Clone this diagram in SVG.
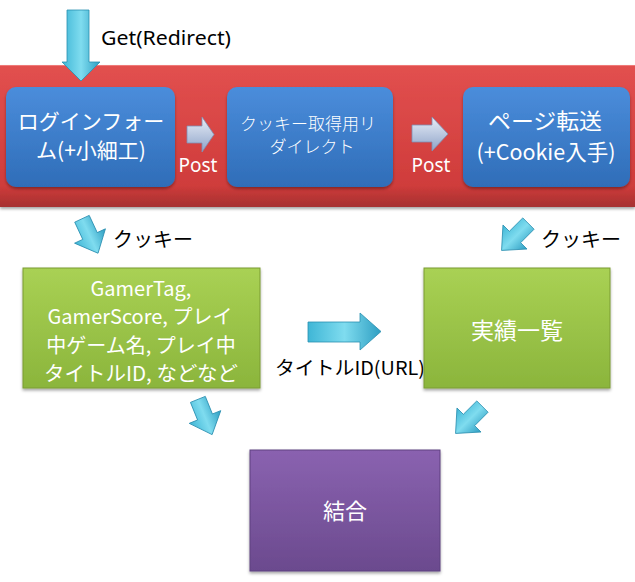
<svg xmlns="http://www.w3.org/2000/svg" width="635" height="582" viewBox="0 0 635 582">
<style>
.jp{font-family:"Noto Sans CJK JP","Noto Sans",sans-serif;}
.w{fill:#ffffff;}
.k{fill:#000000;}
.cy{fill:url(#gCyan);stroke:#2a8fb0;stroke-width:0.8;}
.gy{fill:url(#gGrey);stroke:#7d90b5;stroke-width:0.8;}
</style>
<defs>
<linearGradient id="gRed" x1="0" y1="0" x2="0" y2="1">
<stop offset="0" stop-color="#e2504f"/>
<stop offset="0.85" stop-color="#cf3c3b"/>
<stop offset="1" stop-color="#a63030"/>
</linearGradient>
<linearGradient id="gBlue" x1="0" y1="0" x2="0" y2="1">
<stop offset="0" stop-color="#4b8ddb"/>
<stop offset="1" stop-color="#2f6db8"/>
</linearGradient>
<linearGradient id="gGreen" x1="0" y1="0" x2="0" y2="1">
<stop offset="0" stop-color="#a9d154"/>
<stop offset="1" stop-color="#8bb53c"/>
</linearGradient>
<linearGradient id="gPurple" x1="0" y1="0" x2="0" y2="1">
<stop offset="0" stop-color="#8a62b0"/>
<stop offset="1" stop-color="#6b4a8e"/>
</linearGradient>
<linearGradient id="gCyan" x1="0" y1="0" x2="1" y2="0">
<stop offset="0" stop-color="#3fb6d6"/>
<stop offset="0.5" stop-color="#7fdcef"/>
<stop offset="1" stop-color="#2e9ec2"/>
</linearGradient>
<linearGradient id="gGrey" x1="0" y1="0" x2="0" y2="1">
<stop offset="0" stop-color="#e8eef8"/>
<stop offset="1" stop-color="#8ea3c8"/>
</linearGradient>
<filter id="sh" x="-10%" y="-10%" width="120%" height="130%">
<feDropShadow dx="0" dy="2" stdDeviation="1.5" flood-color="#000" flood-opacity="0.35"/>
</filter>
<path id="arrDown" d="M-8,-19 H8 V0 H17 L0,19 L-17,0 H-8 Z"/>
</defs>

<!-- red band -->
<g id="band">
<rect x="0" y="65" width="635" height="142" fill="url(#gRed)" filter="url(#sh)"/>
<line x1="0" y1="65.5" x2="635" y2="65.5" stroke="#ef7a78" stroke-width="1"/>
</g>

<g id="connectors">
<path class="cy" d="M67,10 H89 V62 H100 L81,81 L62,62 H67 Z"/>
<text class="k" x="101" y="45" font-family="Noto Sans, sans-serif" font-size="19" textLength="130" lengthAdjust="spacingAndGlyphs">Get(Redirect)</text>
<path class="gy" d="M187,126 H202 V117 L214,134.5 L202,152 V143 H187 Z"/>
<text class="w" x="198" y="172" text-anchor="middle" font-family="Noto Sans, sans-serif" font-size="19">Post</text>
<path class="gy" d="M412,125 H432 V117 L448,134 L432,151 V142 H412 Z"/>
<text class="w" x="431" y="172" text-anchor="middle" font-family="Noto Sans, sans-serif" font-size="19">Post</text>
<use href="#arrDown" class="cy" transform="translate(90,236) rotate(-25)"/>
<text class="k jp" x="113" y="247" font-size="20">クッキー</text>
<use href="#arrDown" class="cy" transform="translate(515,237) rotate(45)"/>
<text class="k jp" x="541" y="247" font-size="20">クッキー</text>
<path class="cy" d="M308,322 H360 V313 L381,331.5 L360,350 V342 H308 Z"/>
<text class="k jp" x="275" y="375" font-size="19" textLength="150" lengthAdjust="spacingAndGlyphs">タイトルID(URL)</text>
<use href="#arrDown" class="cy" transform="translate(205,417) rotate(-22)"/>
<use href="#arrDown" class="cy" transform="translate(469,420) rotate(45)"/>
</g>

<g id="login">
<rect x="6" y="87" width="169" height="100" rx="10" fill="url(#gBlue)" filter="url(#sh)"/>
<text class="w jp" x="91" y="129" text-anchor="middle" font-size="21">ログインフォー</text>
<text class="w jp" x="91" y="158" text-anchor="middle" font-size="21">ム(+小細工)</text>
</g>
<g id="redirect">
<rect x="227" y="87" width="166" height="100" rx="10" fill="url(#gBlue)" filter="url(#sh)"/>
<text class="w jp" x="308" y="130" text-anchor="middle" font-size="17" font-weight="300">クッキー取得用リ</text>
<text class="w jp" x="312" y="153" text-anchor="middle" font-size="17" font-weight="300">ダイレクト</text>
</g>
<g id="transfer">
<rect x="463" y="87" width="167" height="100" rx="10" fill="url(#gBlue)" filter="url(#sh)"/>
<text class="w jp" x="545" y="129" text-anchor="middle" font-size="22" textLength="114" lengthAdjust="spacingAndGlyphs">ページ転送</text>
<text class="w jp" x="546" y="160" text-anchor="middle" font-size="21.5">(+Cookie入手)</text>
</g>
<g id="info">
<rect x="23" y="268" width="237" height="120" fill="url(#gGreen)" stroke="#7a9c32" stroke-width="1" filter="url(#sh)"/>
<text class="w jp" x="141" y="296" text-anchor="middle" font-size="20">GamerTag,</text>
<text class="w jp" x="140" y="324" text-anchor="middle" font-size="20">GamerScore, プレイ</text>
<text class="w jp" x="141" y="353" text-anchor="middle" font-size="20">中ゲーム名, プレイ中</text>
<text class="w jp" x="141" y="381" text-anchor="middle" font-size="20.5">タイトルID, などなど</text>
</g>
<g id="achievements">
<rect x="424" y="268" width="186" height="120" fill="url(#gGreen)" stroke="#7a9c32" stroke-width="1" filter="url(#sh)"/>
<text class="w jp" x="517" y="339" text-anchor="middle" font-size="23">実績一覧</text>
</g>
<g id="merge">
<rect x="250" y="450" width="190" height="121" fill="url(#gPurple)" stroke="#5e4080" stroke-width="1" filter="url(#sh)"/>
<text class="w jp" x="345" y="519" text-anchor="middle" font-size="22">結合</text>
</g>
</svg>
